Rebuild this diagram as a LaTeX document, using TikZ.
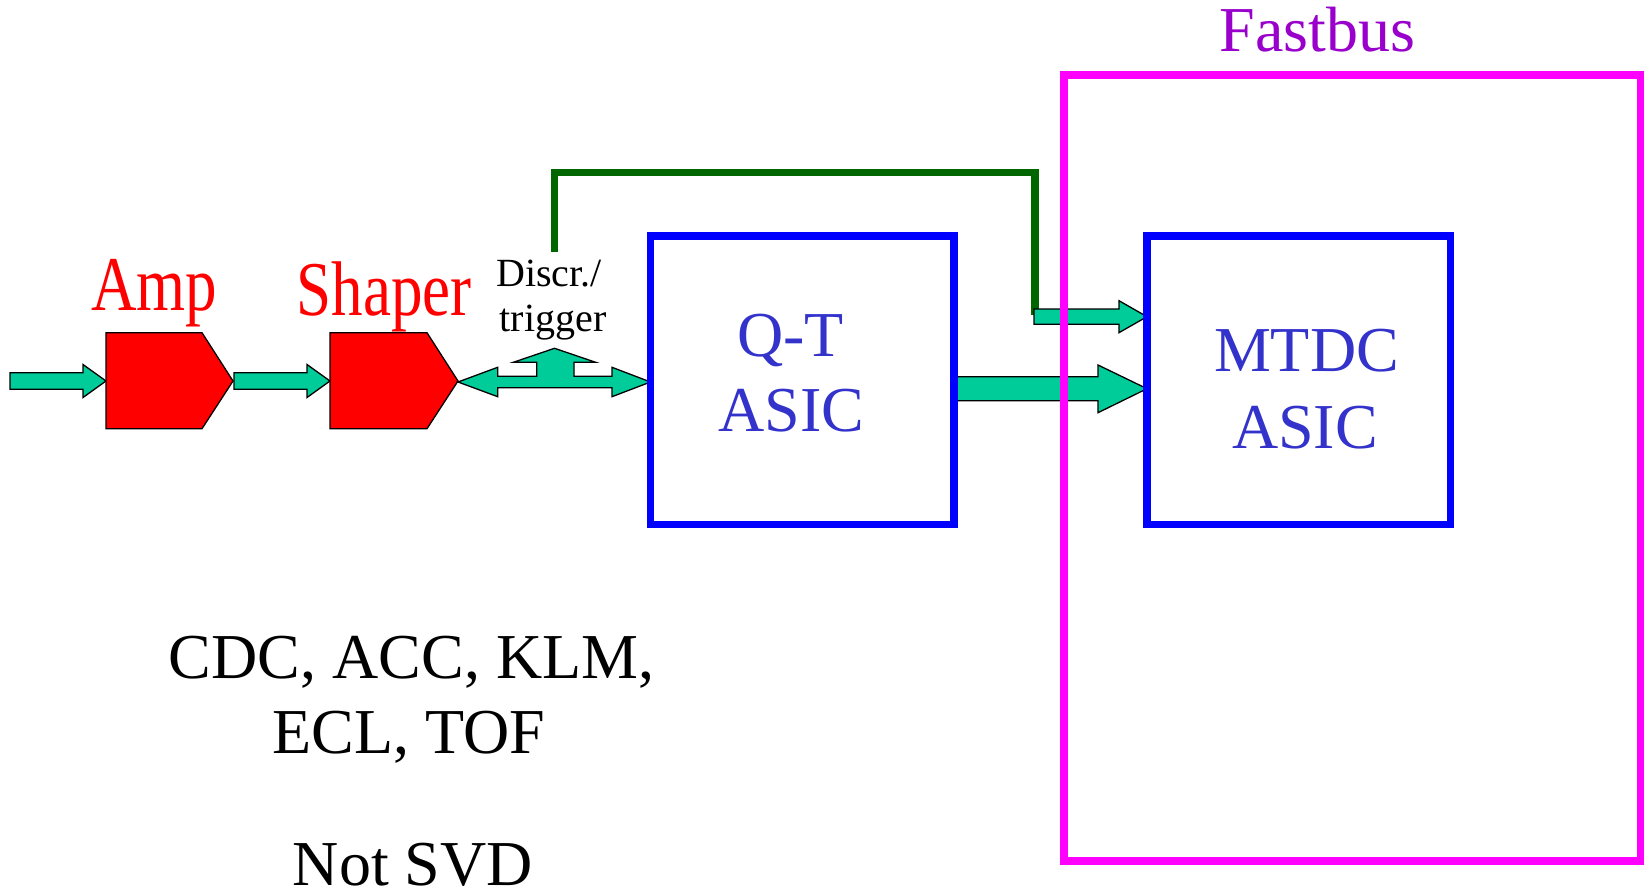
\documentclass[tikz,border=0pt]{standalone}
\usepackage{fontspec}
\setmainfont{Liberation Serif}
\definecolor{arrowfill}{RGB}{0,204,153}
\definecolor{boxblue}{RGB}{0,0,255}
\definecolor{txtblue}{RGB}{51,51,204}
\definecolor{fbpurple}{RGB}{153,0,204}
\definecolor{fbmagenta}{RGB}{255,0,255}
\definecolor{trigreen}{RGB}{0,102,0}
\begin{document}
\begin{tikzpicture}[x=1pt,y=-1pt,
  blockarrow/.style={fill=arrowfill,draw=black,line width=1.3pt,line join=miter},
  pentagonshape/.style={fill=red,draw=black,line width=1.3pt,line join=miter},
  asicbox/.style={draw=boxblue,line width=7.5pt,minimum width=303.5pt,minimum height=288.7pt,inner sep=0pt,outer sep=0pt},
  crate/.style={draw=fbmagenta,line width=7.5pt,minimum width=577pt,minimum height=786pt,inner sep=0pt,outer sep=0pt},
  trigline/.style={draw=trigreen,line width=7.5pt,line join=miter},
  bigtxt/.style={font=\fontsize{64}{70}\selectfont,anchor=base,inner sep=0pt},
  redtxt/.style={font=\fontsize{63}{70}\selectfont,text=red,anchor=base,inner sep=0pt},
  smalltxt/.style={font=\fontsize{40}{44}\selectfont,anchor=base,inner sep=0pt,text depth=0pt},
  asictxt/.style={bigtxt,text=txtblue},
]
\useasboundingbox (0,0) rectangle (1644,888);
% trigger line
\coordinate (gstart) at (554.5,252.3);
\coordinate (gtop) at (1035,172.7);
\coordinate (gend) at (1035,315);
\draw[trigline] (gstart) |- (gtop) -- (gend);
% input arrows
\draw[blockarrow] (10,372.7) -- (83,372.7) -- (83,364.5) -- (106,381) -- (83,397.5) -- (83,389.3) -- (10,389.3) -- cycle;
\draw[blockarrow] (234,372.7) -- (307,372.7) -- (307,364.5) -- (330,381) -- (307,397.5) -- (307,389.3) -- (234,389.3) -- cycle;
% amp and shaper
\draw[pentagonshape] (106,332.7) -- (202,332.7) -- (233,381) -- (202,428.7) -- (106,428.7) -- cycle;
\draw[pentagonshape] (330,332.7) -- (427,332.7) -- (458,381) -- (427,428.7) -- (330,428.7) -- cycle;
% discriminator arrow
\draw[blockarrow] (458,382) -- (497.7,367.3) -- (497.7,376.3) -- (536.7,376.3) -- (536.7,362.3) -- (513.3,362.3) -- (554.5,348.3) -- (595.7,362.3) -- (574,362.3) -- (574,376.3) -- (612,376.3) -- (612,367.3) -- (650.5,382) -- (612,396.7) -- (612,387.7) -- (497.7,387.7) -- (497.7,396.7) -- cycle;
% arrows to MTDC
\draw[blockarrow] (1034,309) -- (1119,309) -- (1119,300.7) -- (1147,316.7) -- (1119,332.7) -- (1119,324.3) -- (1034,324.3) -- cycle;
\draw[blockarrow] (955,376.7) -- (1098,376.7) -- (1098,365) -- (1147,388.7) -- (1098,412.7) -- (1098,400.7) -- (955,400.7) -- cycle;
% boxes
\node[asicbox] (qt) at (802.1,380.35) {};
\node[asicbox] (mtdc) at (1298.75,380.35) {};
\node[crate] (fastbus) at (1352.5,468) {};
% texts
\node[bigtxt,text=fbpurple] (fbtitle) at (1317.5,51.7) {Fastbus};
\node[redtxt] (amptxt) at (154.2,310) {\scalebox{1}[1.23]{Amp}};
\node[redtxt] (shapertxt) at (384.2,315) {\scalebox{1}[1.23]{Shaper}};
\node[smalltxt] (discr1) at (549,286.7) {Discr./};
\node[smalltxt] (discr2) at (553,331) {trigger};
\node[asictxt] (qt1) at (790.5,356.7) {Q-T};
\node[asictxt] (qt2) at (791.5,431.7) {ASIC};
\node[asictxt] (mt1) at (1306.5,371.7) {MTDC};
\node[asictxt] (mt2) at (1305,448.3) {ASIC};
\node[bigtxt] (det1) at (411.7,678.3) {CDC, ACC, KLM,};
\node[bigtxt] (det2) at (409,753.3) {ECL, TOF};
\node[bigtxt,text depth=0pt] (det3) at (413,885.5) {Not SVD};
\end{tikzpicture}
\end{document}
